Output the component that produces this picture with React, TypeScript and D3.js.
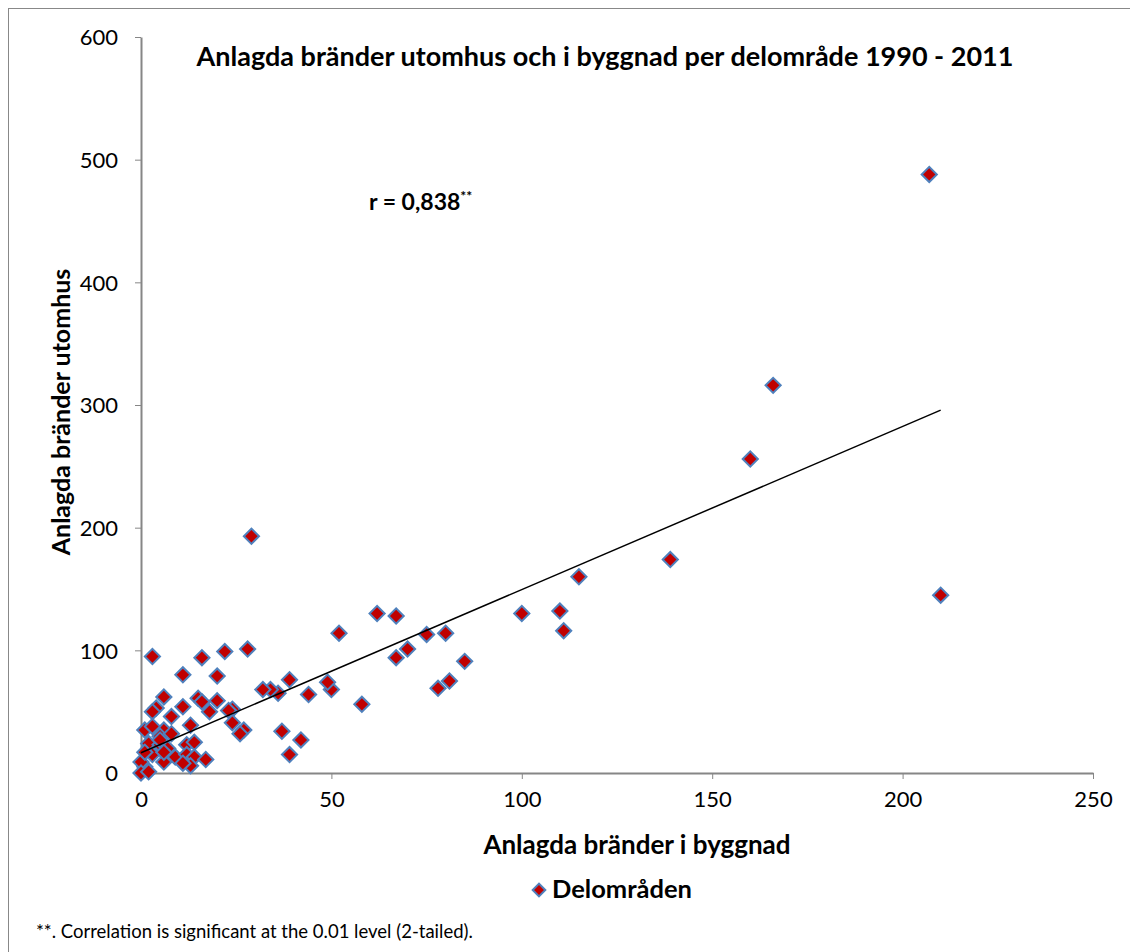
import { useEffect, useRef } from "react";
import * as d3 from "d3";

// Anlagda bränder i byggnad (x) vs utomhus (y), one point per delområde
const xBygg = [
  207, 166, 160, 139, 210, 115, 110, 111, 100, 85, 81, 80, 78, 75, 70, 67, 67,
  62, 58, 52, 50, 49, 44, 42, 39, 39, 37, 36, 34, 32, 29, 28, 27, 26, 24, 24,
  22, 16, 3, 11, 20,
  6, 4, 3, 8, 11, 15, 16, 20, 18, 23, 13, 1, 6, 5, 8, 2, 5, 7, 12, 14, 9, 12,
  14, 17, 6, 13, 11, 1, 0, 0, 2, 3, 3, 5, 6, 1,
];
const yUte = [
  488, 316, 256, 174, 145, 160, 132, 116, 130, 91, 75, 114, 69, 113, 101, 94,
  128, 130, 56, 114, 68, 74, 64, 27, 76, 15, 34, 65, 68, 68, 193, 101, 35, 32,
  52, 41, 99, 94, 95, 80, 79,
  62, 53, 50, 46, 54, 61, 58, 59, 50, 51, 39, 35, 35, 30, 32, 24, 23, 20, 23,
  25, 13, 15, 13, 11, 9, 6, 8, 5, 9, 0, 1, 15, 38, 27, 17, 17,
];

const xTicks = [0, 50, 100, 150, 200, 250];
const yTicks = [0, 100, 200, 300, 400, 500, 600];

// Excel linear trendline
const trendSlope = 1.33;
const trendIntercept = 16.5;

const FONT = "Lato, 'Open Sans', sans-serif";

export default function App() {
  const ref = useRef<SVGSVGElement | null>(null);

  useEffect(() => {
    if (!ref.current) return;
    const svg = d3.select(ref.current);
    svg.selectAll("*").remove();

    const W = 1130;
    const H = 952;
    const margin = { left: 141, right: 37, top: 37, bottom: 179 };

    const x = d3.scaleLinear().domain([0, 250]).range([margin.left, W - margin.right]);
    const y = d3.scaleLinear().domain([0, 600]).range([H - margin.bottom, margin.top]);

    // outer frame
    svg
      .append("rect")
      .attr("x", 8.5)
      .attr("y", 8.5)
      .attr("width", W)
      .attr("height", H)
      .attr("fill", "#fff")
      .attr("stroke", "#888")
      .attr("stroke-width", 1);

    // axes
    const axisColor = "#868686";
    const xAxis = svg
      .append("g")
      .attr("transform", `translate(0,${y(0)})`)
      .call(d3.axisBottom(x).tickValues(xTicks).tickSize(6).tickSizeOuter(0).tickPadding(12));
    const yAxis = svg
      .append("g")
      .attr("transform", `translate(${x(0)},0)`)
      .call(d3.axisLeft(y).tickValues(yTicks).tickSize(6).tickSizeOuter(0).tickPadding(17));

    [xAxis, yAxis].forEach((g) => {
      g.select(".domain").attr("stroke", axisColor).attr("stroke-width", 2);
      g.selectAll(".tick line").attr("stroke", axisColor).attr("stroke-width", 1);
      g.selectAll(".tick text")
        .attr("fill", "#000")
        .style("font-family", FONT)
        .style("font-size", "22px");
    });
    yAxis.selectAll(".tick text").attr("dy", "0.35em");

    // points
    const pts = xBygg.map((v, i) => ({ x: v, y: yUte[i] }));
    const diamond = d3.symbol(d3.symbolSquare, 115);
    svg
      .append("g")
      .selectAll("path")
      .data(pts)
      .join("path")
      .attr("d", diamond()!)
      .attr("transform", (d) => `translate(${x(d.x)},${y(d.y)}) rotate(45)`)
      .attr("fill", "#C00000")
      .attr("stroke", "#4F81BD")
      .attr("stroke-width", 2);

    // trendline
    const xMin = d3.min(xBygg)!;
    const xMax = d3.max(xBygg)!;
    const line = d3
      .line<number>()
      .x((v) => x(v))
      .y((v) => y(trendIntercept + trendSlope * v));
    svg
      .append("path")
      .attr("d", line([xMin, xMax])!)
      .attr("fill", "none")
      .attr("stroke", "#000")
      .attr("stroke-width", 1.5);

    // title
    svg
      .append("text")
      .attr("x", 605)
      .attr("y", 66)
      .attr("text-anchor", "middle")
      .style("font-family", FONT)
      .style("font-weight", "bold")
      .style("font-size", "27px")
      .text("Anlagda bränder utomhus och i byggnad per delområde 1990 - 2011");

    // correlation
    const r = svg
      .append("text")
      .attr("x", 369)
      .attr("y", 210)
      .style("font-family", FONT)
      .style("font-weight", "bold")
      .style("font-size", "23px");
    r.append("tspan").text("r = 0,838");
    r.append("tspan").attr("dy", -9).style("font-size", "14px").text("**");

    // axis titles
    svg
      .append("text")
      .attr("x", 637)
      .attr("y", 854)
      .attr("text-anchor", "middle")
      .style("font-family", FONT)
      .style("font-weight", "bold")
      .style("font-size", "26px")
      .text("Anlagda bränder i byggnad");

    svg
      .append("text")
      .attr("transform", `translate(70,412) rotate(-90)`)
      .attr("text-anchor", "middle")
      .style("font-family", FONT)
      .style("font-weight", "bold")
      .style("font-size", "25px")
      .text("Anlagda bränder utomhus");

    // legend
    svg
      .append("path")
      .attr("d", d3.symbol(d3.symbolSquare, 80)()!)
      .attr("transform", `translate(539,890) rotate(45)`)
      .attr("fill", "#C00000")
      .attr("stroke", "#4F81BD")
      .attr("stroke-width", 2);
    svg
      .append("text")
      .attr("x", 552)
      .attr("y", 898)
      .style("font-family", FONT)
      .style("font-weight", "bold")
      .style("font-size", "25.5px")
      .text("Delområden");

    // footnote
    svg
      .append("text")
      .attr("x", 36)
      .attr("y", 938)
      .style("font-family", FONT)
      .style("font-size", "18.5px")
      .text("**. Correlation is significant at the 0.01 level (2-tailed).");
  }, []);

  return (
    <svg
      ref={ref}
      width={1130}
      height={952}
      style={{ position: "absolute", left: 0, top: 0, background: "#fff" }}
    />
  );
}
